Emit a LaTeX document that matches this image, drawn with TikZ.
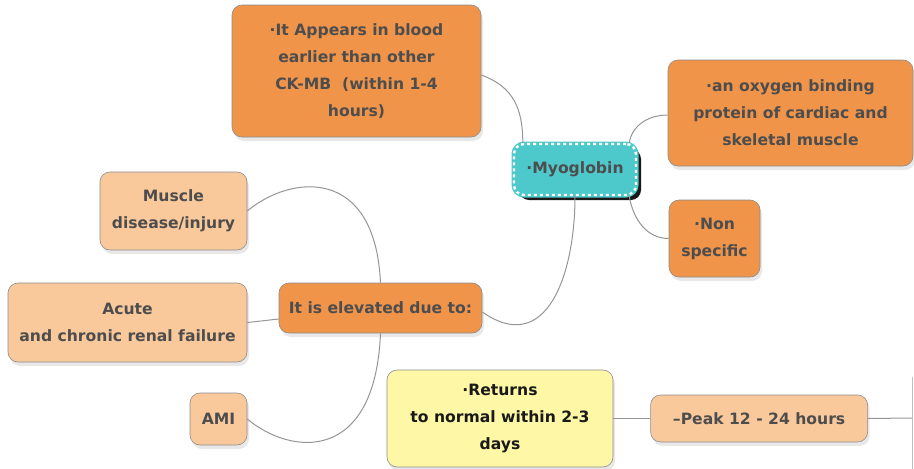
\documentclass[tikz,border=0pt]{standalone}
\usepackage{fontspec}
\setmainfont{DejaVu Sans}
\usetikzlibrary{shapes, arrows, calc, positioning, shadows}
\definecolor{mapOrange}{HTML}{F0944A}
\definecolor{mapPeach}{HTML}{F9C99C}
\definecolor{mapTeal}{HTML}{4EC9CB}
\definecolor{mapYellow}{HTML}{FDF7A6}
\definecolor{mapText}{HTML}{4D4D4D}
\definecolor{mapLine}{HTML}{959595}
\tikzstyle{line} = [draw=mapLine, line width=1pt]
\tikzstyle{basebox} = [rectangle, text centered, align=center, rounded corners=10pt, inner sep=0pt, text=mapText, font=\bfseries\fontsize{15.6}{27}\selectfont]
\tikzstyle{block} = [basebox, draw=black!45, line width=0.6pt, drop shadow={opacity=0.18, shadow xshift=2pt, shadow yshift=-4pt}]
\tikzstyle{topic} = [block, fill=mapOrange]
\tikzstyle{detail} = [block, fill=mapPeach]
\tikzstyle{central} = [basebox, drop shadow={fill=black, opacity=0.9, shadow xshift=5pt, shadow yshift=-5pt}, preaction={draw=mapTeal, solid, line width=5pt}, fill=mapTeal, draw=white, dash pattern=on 3pt off 3pt, line width=2.4pt]

\begin{document}
\begin{tikzpicture}[x=1pt, y=-1pt, node distance=0.5cm]
\useasboundingbox (0,0) rectangle (914,469);
\node [central, minimum width=122pt, minimum height=51pt] (myoglobin) at (575,169.5) {·Myoglobin};
\node [topic, minimum width=249pt, minimum height=132pt] (appears) at (356.5,71) {·It Appears in blood\\earlier than other\\CK-MB\ \ (within 1-4\\hours)};
\node [topic, minimum width=245pt, minimum height=106pt] (oxygen) at (790.5,113) {·an oxygen binding\\protein of cardiac and\\skeletal muscle};
\node [topic, minimum width=91pt, minimum height=77pt] (nonspec) at (714.5,238.5) {·Non\\specific};
\node [topic, minimum width=203pt, minimum height=50pt] (elevated) at (380.5,308) {It is elevated due to:};
\node [detail, minimum width=147pt, minimum height=78pt] (muscle) at (173.5,211) {Muscle\\disease/injury};
\node [detail, minimum width=239pt, minimum height=79pt] (acute) at (127.5,322.5) {Acute\\and chronic renal failure};
\node [detail, minimum width=57pt, minimum height=52pt] (ami) at (218.5,419) {AMI};
\node [block, fill=mapYellow, text=black!90, minimum width=226pt, minimum height=97pt] (returns) at (500,418.5) {·Returns\\to normal within 2-3\\days};
\node [detail, right=37pt of returns, minimum width=217pt, minimum height=47pt] (peak) {–Peak 12 - 24 hours};
\coordinate (next) at (912.5,418);
\path [line] ([yshift=-4pt]appears.east) to[out=-20, in=90, looseness=1.1] ([xshift=10pt]myoglobin.north west);
\path [line] ([xshift=-8pt]myoglobin.north east) to[out=80, in=180] ([yshift=-2pt]oxygen.west);
\path [line] ([xshift=-8pt]myoglobin.south east) to[out=-80, in=180] (nonspec.west);
\path [line] ([yshift=-4pt]elevated.east) to[out=-35, in=-90, looseness=1.35] (myoglobin.south);
\path [line] (muscle.east) .. controls (290,175) and (375,165) .. (elevated.north);
\path [line] (acute.east) -- ([yshift=-11pt]elevated.west);
\path [line] (ami.east) .. controls (290,455) and (375,465) .. (elevated.south);
\path [line] (returns.east) -- (peak.west);
\path [line] (peak.east) -- (next);
\draw [black!25, line width=0.8pt] (next |- 0,377) -- (next |- 0,469);
\end{tikzpicture}
\end{document}
